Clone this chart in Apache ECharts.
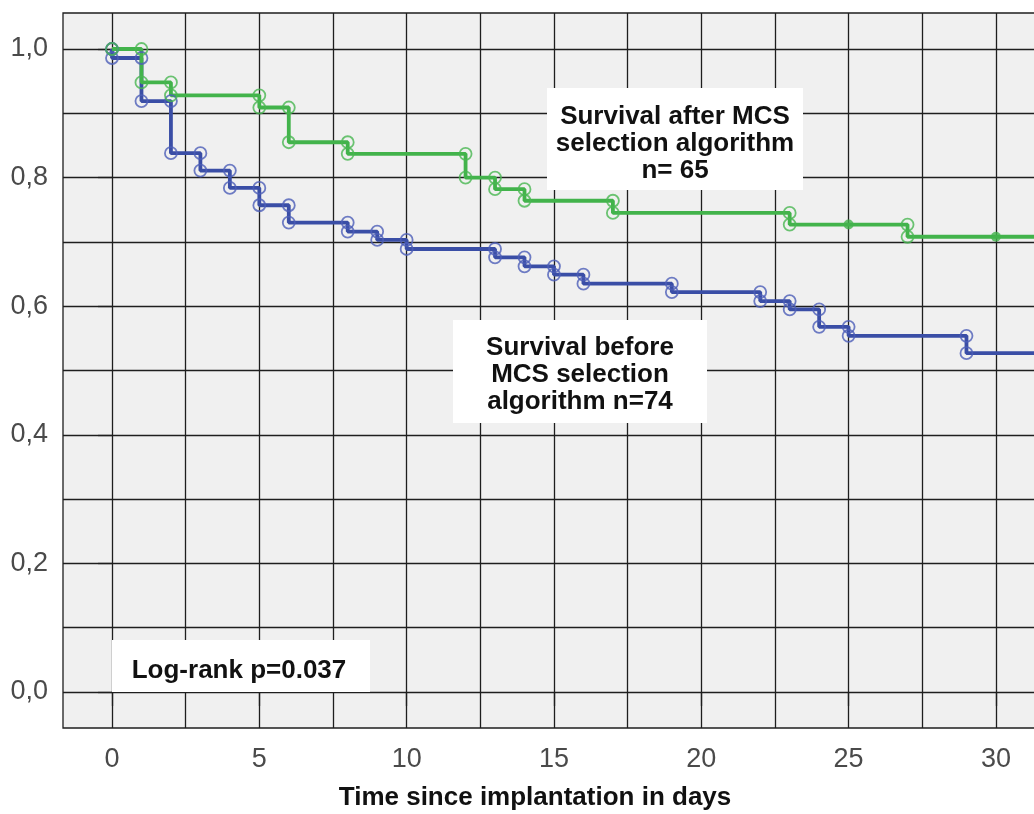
<!DOCTYPE html>
<html>
<head>
<meta charset="utf-8">
<script src="https://cdn.jsdelivr.net/npm/echarts@6/dist/echarts.min.js"></script>
<style>
html, body { margin: 0; padding: 0; background: #fff; }
#chart { width: 1034px; height: 814px; }
</style>
</head>
<body>
<div id="chart"></div>
<script>
// survival before MCS selection algorithm, n=74
const beforeTimes = [0, 1, 2, 3, 4, 5, 6, 8, 9, 10, 13, 14, 15, 16, 19, 22, 23, 24, 25, 29];
const beforeSurv = [0.986, 0.919, 0.838, 0.811, 0.784, 0.757, 0.730, 0.716, 0.703, 0.689, 0.676, 0.662, 0.649, 0.635, 0.622, 0.608, 0.595, 0.568, 0.554, 0.527];
// survival after MCS selection algorithm, n=65
const afterTimes = [1, 2, 5, 6, 8, 12, 13, 14, 17, 23, 27];
const afterSurv = [0.948, 0.928, 0.909, 0.855, 0.837, 0.800, 0.782, 0.764, 0.745, 0.727, 0.708];
const afterCensored = [25, 30];
const lastTime = 33; // curves run on past the right edge of the picture

const xTicks = [0, 5, 10, 15, 20, 25, 30, 35];
const xGridLines = [0, 2.5, 5, 7.5, 10, 12.5, 15, 17.5, 20, 22.5, 25, 27.5, 30, 32.5, 35];
const yTicks = [0, 0.2, 0.4, 0.6, 0.8, 1.0];
const yGridLines = [0, 0.1, 0.2, 0.3, 0.4, 0.5, 0.6, 0.7, 0.8, 0.9, 1.0];

const xMin = -1.663, xMax = 35.67;
const yMin = -0.056, yMax = 1.056;

const GREEN = '#42b34b';
const BLUE = '#3a4ea6';
const GRID = '#1e1e1e';

// step line: start at 1, one point per event time
const stepData = (times, surv) => {
	const d = [[0, 1]];
	times.forEach((t, i) => d.push([t, surv[i]]));
	d.push([lastTime, surv[surv.length - 1]]);
	return d;
};

// circles at top and bottom of every drop
const corners = (times, surv) => {
	const pts = [[0, 1]];
	times.forEach((t, i) => {
		pts.push([t, i ? surv[i - 1] : 1]);
		pts.push([t, surv[i]]);
	});
	return pts;
};

const survAt = (times, surv, t) => {
	let s = 1;
	times.forEach((tt, i) => { if (tt <= t) s = surv[i]; });
	return s;
};

const lineStyleOf = (c) => ({ color: c, width: 3.8 });
const circleSeries = (name, data, color) => ({
	name: name,
	type: 'scatter',
	symbol: 'circle',
	symbolSize: 12,
	itemStyle: { color: 'rgba(0,0,0,0)', borderColor: color, borderWidth: 1.8 },
	data: data,
	z: 4,
});

const chart = echarts.init(document.getElementById('chart'));
const font = 'Liberation Sans, Arial, sans-serif';

const option = {
	animation: false,
	backgroundColor: '#fff',
	grid: {
		left: 63, top: 13, width: 1100, height: 715,
		outerBoundsMode: 'none', containLabel: false,
		show: true, backgroundColor: '#f0f0f0', borderColor: GRID, borderWidth: 1.3,
	},
	xAxis: [
		{
			type: 'value', min: xMin, max: xMax,
			axisLine: { show: false },
			axisTick: { show: false, customValues: xGridLines },
			axisLabel: { show: false },
			splitLine: { show: true, lineStyle: { color: GRID, width: 1.3 } },
		},
		{
			type: 'value', min: xMin, max: xMax, position: 'bottom',
			axisLine: { show: false },
			axisTick: { show: true, length: 14, customValues: xTicks, lineStyle: { color: GRID, width: 1.3 } },
			axisLabel: { customValues: xTicks, margin: 18, fontSize: 27, color: '#4a4a4a', fontFamily: font },
			splitLine: { show: false },
		},
	],
	yAxis: [
		{
			type: 'value', min: yMin, max: yMax,
			axisLine: { show: false },
			axisTick: { show: false, customValues: yGridLines },
			axisLabel: { show: false },
			splitLine: { show: true, lineStyle: { color: GRID, width: 1.3 } },
		},
		{
			type: 'value', min: yMin, max: yMax, position: 'left',
			axisLine: { show: false },
			axisTick: { show: true, length: 14, customValues: yTicks, lineStyle: { color: GRID, width: 1.3 } },
			axisLabel: {
				customValues: yTicks, margin: 15, fontSize: 27, color: '#4a4a4a', fontFamily: font,
				formatter: (v) => v.toFixed(1).replace('.', ','),
			},
			splitLine: { show: false },
		},
	],
	series: [
		{
			name: 'before', type: 'line', step: 'end', showSymbol: false,
			lineStyle: lineStyleOf(BLUE), data: stepData(beforeTimes, beforeSurv), z: 3,
		},
		{
			name: 'after', type: 'line', step: 'end', showSymbol: false,
			lineStyle: lineStyleOf(GREEN), data: stepData(afterTimes, afterSurv), z: 3,
		},
		circleSeries('before circles', corners(beforeTimes, beforeSurv), '#4c5eb8'),
		circleSeries('after circles', corners(afterTimes, afterSurv), '#48b751'),
		{
			name: 'after censored', type: 'scatter', symbol: 'circle', symbolSize: 10,
			itemStyle: { color: GREEN },
			data: afterCensored.map(t => [t, survAt(afterTimes, afterSurv, t)]),
			z: 5,
		},
	],
	graphic: [
		{ type: 'rect', shape: { x: 547, y: 88, width: 256, height: 102 }, style: { fill: '#fff' }, z: 10 },
		{
			type: 'text', x: 675, y: 144, z: 11,
			style: {
				text: 'Survival after MCS\nselection algorithm\nn= 65', fill: '#111',
				font: 'bold 26px ' + font, lineHeight: 27, align: 'center', verticalAlign: 'middle',
			},
		},
		{ type: 'rect', shape: { x: 453, y: 320, width: 254, height: 103 }, style: { fill: '#fff' }, z: 10 },
		{
			type: 'text', x: 580, y: 375, z: 11,
			style: {
				text: 'Survival before\nMCS selection\nalgorithm n=74', fill: '#111',
				font: 'bold 26px ' + font, lineHeight: 27, align: 'center', verticalAlign: 'middle',
			},
		},
		{ type: 'rect', shape: { x: 112, y: 640, width: 258, height: 52 }, style: { fill: '#fff' }, z: 10 },
		{
			type: 'text', x: 239, y: 671, z: 11,
			style: {
				text: 'Log-rank p=0.037', fill: '#111',
				font: 'bold 26px ' + font, align: 'center', verticalAlign: 'middle',
			},
		},
		{
			type: 'text', x: 535, y: 798, z: 11,
			style: {
				text: 'Time since implantation in days', fill: '#111',
				font: 'bold 26px ' + font, align: 'center', verticalAlign: 'middle',
			},
		},
	],
};

chart.setOption(option);
</script>
</body>
</html>
